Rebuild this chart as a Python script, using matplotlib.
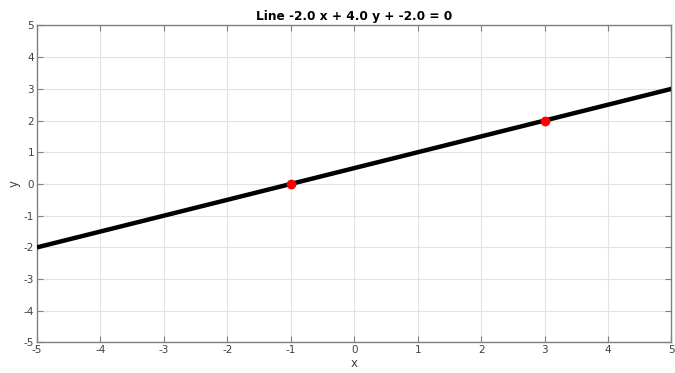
import matplotlib
matplotlib.use("Agg")
import matplotlib.pyplot as plt

plt.rcParams["axes.unicode_minus"] = False

# line -2x + 4y - 2 = 0, drawn across the view box
line_x = [-5, 5]
line_y = [-2, 3]
point_x = [-1, 3]
point_y = [0, 2]
ticks = list(range(-5, 6))

fig = plt.figure(figsize=(6.75, 3.73), dpi=100)
ax = fig.add_axes([0.0548, 0.0818, 0.940, 0.850])

ax.plot(line_x, line_y, color="black", lw=3.2, solid_capstyle="butt", zorder=3)
ax.plot(point_x, point_y, "o", color="red", ms=6, zorder=4)

ax.set_xlim(-5, 5); ax.set_ylim(-5, 5)
ax.set_xticks(ticks); ax.set_yticks(ticks)
ax.grid(True, color="#e3e3e3", lw=0.8)
ax.set_axisbelow(True)
for s in ax.spines.values():
    s.set_color("#808080"); s.set_linewidth(1.0)
ax.tick_params(direction="in", top=True, right=True, length=4, color="#808080",
               labelsize=7.5, labelcolor="#404040", pad=2)
ax.set_xlabel("x", fontsize=8.5, labelpad=1, color="#404040")
ax.set_ylabel("y", fontsize=8.5, labelpad=2, color="#404040")
ax.set_title("Line -2.0 x + 4.0 y + -2.0 = 0", fontsize=8.7, fontweight="bold", pad=4)

fig.savefig("out.png", dpi=100)
